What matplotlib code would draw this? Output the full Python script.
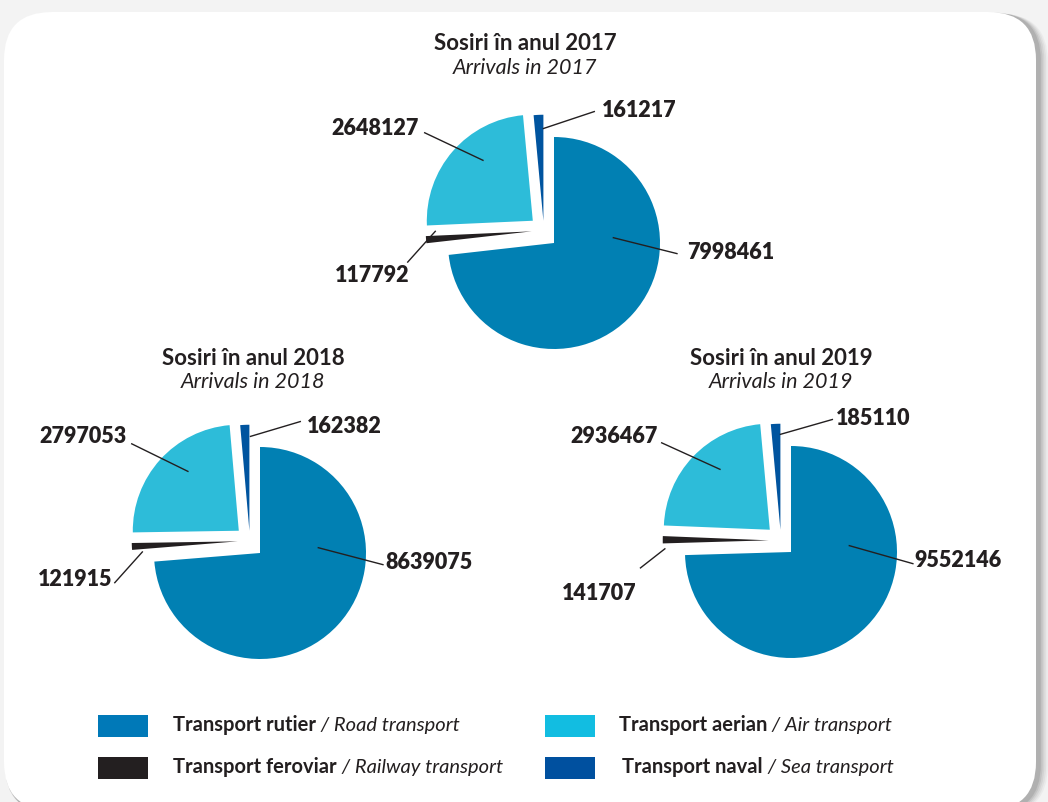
import matplotlib.pyplot as plt
from matplotlib.patches import FancyBboxPatch, Rectangle

# data
years = ["2017", "2018", "2019"]
road = [7998461, 8639075, 9552146]
railway = [117792, 121915, 141707]
air = [2648127, 2797053, 2936467]
sea = [161217, 162382, 185110]

legend_ro = ["Transport rutier", "Transport feroviar", "Transport aerian", "Transport naval"]
legend_en = ["Road transport", "Railway transport", "Air transport", "Sea transport"]

# style
W, H = 1048, 802
R = 106  # pie radius in px
pie_colors = ["#0180b3", "#231f20", "#2dbcd9", "#00549f"]
legend_colors = ["#0079b8", "#231f20", "#12bde1", "#00509f"]
dark = "#231f20"
# offsets of the pulled-out slices (road, rail, air, sea), radius units
offsets = [(0, 0), (-0.21, 0.11), (-0.20, 0.21), (-0.10, 0.21)]
centers = [(554, 243), (260, 553), (791, 552)]
title_pos = [(525, 44), (253, 358), (781, 358)]

# leader lines: (anchor, line end, text pos, ha) for road, rail, air, sea
label_layout = [
    [((0.56, 0.05), (1.16, -0.10), (1.26, -0.09), "left"),
     ((-1.12, 0.11), (-1.38, -0.18), (-1.36, -0.31), "right"),
     ((-0.67, 0.78), (-1.22, 1.04), (-1.28, 1.08), "right"),
     ((-0.10, 1.08), (0.38, 1.24), (0.45, 1.25), "left")],
    [((0.55, 0.05), (1.16, -0.11), (1.18, -0.09), "left"),
     ((-1.11, 0.01), (-1.37, -0.28), (-1.39, -0.25), "right"),
     ((-0.68, 0.77), (-1.21, 1.03), (-1.26, 1.10), "right"),
     ((-0.09, 1.10), (0.38, 1.24), (0.44, 1.19), "left")],
    [((0.55, 0.06), (1.15, -0.11), (1.16, -0.08), "left"),
     ((-1.19, 0.03), (-1.42, -0.15), (-1.46, -0.39), "right"),
     ((-0.67, 0.78), (-1.22, 1.03), (-1.26, 1.09), "right"),
     ((-0.10, 1.11), (0.39, 1.25), (0.42, 1.26), "left")],
]

plt.rcParams['font.family'] = ['Lato', 'DejaVu Sans']

fig = plt.figure(figsize=(W / 100, H / 100), dpi=100)
fig.patch.set_facecolor("#f3f3f3")

# background panel with soft shadow
bg = fig.add_axes([0, 0, 1, 1])
bg.set_xlim(0, W)
bg.set_ylim(H, 0)
bg.axis("off")
for i, a in enumerate([0.05, 0.07, 0.09, 0.12, 0.16]):
    d = 9 - i * 1.6
    bg.add_patch(FancyBboxPatch((4 + d * 0.3, 12 + d * 0.2), 1034 + d * 0.8, 800,
                                boxstyle="round,pad=0,rounding_size=48",
                                fc="#555555", ec="none", alpha=a))
bg.add_patch(FancyBboxPatch((4, 12), 1032, 798, boxstyle="round,pad=0,rounding_size=48",
                            fc="white", ec="none"))

for k in range(3):
    cx, cy = centers[k]
    ax = fig.add_axes([(cx - 1.5 * R) / W, 1 - (cy + 1.5 * R) / H, 3 * R / W, 3 * R / H])
    ax.set_xlim(-1.5, 1.5)
    ax.set_ylim(-1.5, 1.5)
    ax.axis("off")
    vals = [road[k], railway[k], air[k], sea[k]]
    wedges, _ = ax.pie(vals, colors=pie_colors, startangle=90, counterclock=False,
                       radius=1, wedgeprops=dict(linewidth=0))
    for w, off in zip(wedges, offsets):
        w.set_center(off)
    ax.set_xlim(-1.5, 1.5)
    ax.set_ylim(-1.5, 1.5)
    for v, (p0, p1, tp, ha) in zip(vals, label_layout[k]):
        ax.plot([p0[0], p1[0]], [p0[1], p1[1]], color=dark, lw=1, clip_on=False)
        ax.text(tp[0], tp[1], str(v), ha=ha, va="center", fontsize=15.5,
                fontweight="heavy", color=dark, clip_on=False)

    tx, ty = title_pos[k]
    fig.text(tx / W, 1 - ty / H, "Sosiri în anul " + years[k], ha="center", va="center",
             fontsize=16, fontweight="bold", color=dark)
    fig.text(tx / W, 1 - (ty + 24) / H, "Arrivals in " + years[k], ha="center", va="center",
             fontsize=15.5, style="italic", color=dark)

# legend
box_pos = [(98, 715), (98, 757), (545, 715), (545, 757)]
text_x = [173, 173, 619, 622]
for i in range(4):
    bx, by = box_pos[i]
    bg.add_patch(Rectangle((bx, by), 50, 22, fc=legend_colors[i], ec="none"))
    base = by + 16
    t1 = bg.text(text_x[i], base, legend_ro[i], ha="left", va="baseline",
                 fontsize=14.5, fontweight="bold", color=dark)
    bg.annotate(" / " + legend_en[i], xy=(1, base), xycoords=(t1, "data"),
                ha="left", va="baseline", fontsize=14.5, style="italic", color=dark)

fig.savefig("out.png", dpi=100, facecolor=fig.get_facecolor())
